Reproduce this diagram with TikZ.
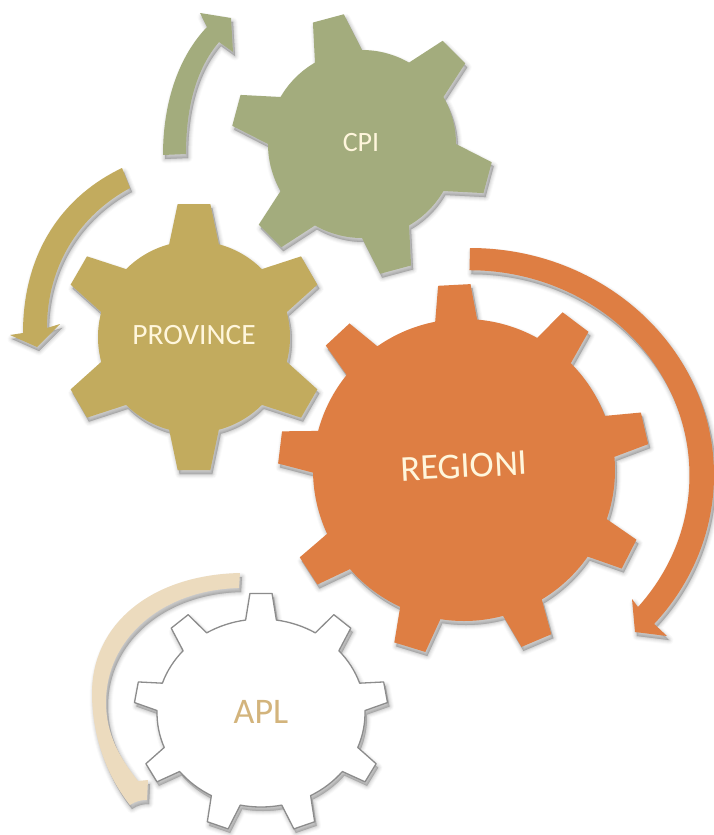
\documentclass[tikz,border=0pt]{standalone}
\usepackage{fontspec}
\setmainfont{Carlito}
\definecolor{cpicol}{HTML}{A3AC7D}
\definecolor{procol}{HTML}{C2AB5E}
\definecolor{regcol}{HTML}{DE7E43}
\definecolor{aplarrow}{HTML}{ECDBBE}
\definecolor{apltext}{HTML}{D3B47C}
\definecolor{labelcol}{HTML}{FFF6DC}
\tikzset{
  softshadow/.style={
    preaction={draw=black,fill=black,line width=9,line join=round,opacity=.02,transform canvas={shift={(2,-4)}}},
    preaction={draw=black,fill=black,line width=7,line join=round,opacity=.03,transform canvas={shift={(2,-4)}}},
    preaction={draw=black,fill=black,line width=5,line join=round,opacity=.04,transform canvas={shift={(2,-4)}}},
    preaction={draw=black,fill=black,line width=3,line join=round,opacity=.05,transform canvas={shift={(2,-4)}}},
    preaction={draw=black,fill=black,line width=1,line join=round,opacity=.07,transform canvas={shift={(2,-4)}}}
  },
  cpigear/.style={softshadow,fill=cpicol},
  progear/.style={softshadow,fill=procol},
  reggear/.style={softshadow,fill=regcol},
  aplgear/.style={softshadow,fill=white,draw=black!45,line width=1.3,line join=round},
  lab/.style={text=labelcol,inner sep=0pt,font=\fontsize{#1}{#1}\selectfont},
}
\newcommand{\gearsize}[6]{\def\gcx{#1}\def\gcy{#2}\def\grx{#3}\def\gry{#4}\def\gtx{#5}\def\gty{#6}}
\newcommand{\geardraw}[5]{%
  \pgfmathsetmacro\gstep{360/#2}
  \path[#1] ({\gcx+\grx*cos(#3+#5)},{-\gcy+\gry*sin(#3+#5)})
    \foreach \i [evaluate=\i as \a using {#3-(\i-1)*\gstep}] in {1,...,#2}{
      -- ({\gcx+\gtx*cos(\a+#4)},{-\gcy+\gty*sin(\a+#4)})
      -- ({\gcx+\gtx*cos(\a-#4)},{-\gcy+\gty*sin(\a-#4)})
      -- ({\gcx+\grx*cos(\a-#5)},{-\gcy+\gry*sin(\a-#5)})
      arc[start angle=\a-#5,end angle=\a-\gstep+#5,x radius=\grx,y radius=\gry]
    } -- cycle;
}
\begin{document}
\begin{tikzpicture}[x=1pt,y=1pt]
\useasboundingbox (0,0) rectangle (714,-835);
% gears
\gearsize{362}{144}{94}{94}{131}{131}
\geardraw{cpigear}{6}{105}{7}{15}
\gearsize{194}{337}{96}{96}{134}{134}
\geardraw{progear}{6}{90}{7}{15}
\gearsize{464}{470}{151}{151}{186}{186}
\geardraw{reggear}{9}{93}{5}{8}
\gearsize{261}{713}{104}{94}{127}{120}
\geardraw{aplgear}{9}{90}{5}{8.5}
% arrows
\fill[softshadow,fill=cpicol] (163,-155) .. controls (163,-100) and (180,-55) .. (207,-27)
  -- (200,-13) -- (231,-18) -- (233,-52) -- (219,-42)
  .. controls (197,-68) and (186,-105) .. (186,-154) -- cycle;
\fill[softshadow,fill=procol] (122,-168) .. controls (65,-195) and (23,-250) .. (23,-333)
  -- (10,-335) -- (37,-347) -- (60,-324) -- (47,-328)
  .. controls (47,-265) and (80,-215) .. (130,-188) -- cycle;
\fill[softshadow,fill=regcol] (470,-248) arc[start angle=90,end angle=-41,x radius=244,y radius=227]
  -- (667,-636) -- (635,-632) -- (632,-599) -- (638,-607)
  arc[start angle=-40,end angle=90,x radius=220,y radius=205] -- cycle;
\fill[softshadow,fill=aplarrow] (240,-573) .. controls (150,-575) and (92,-625) .. (92,-693)
  .. controls (92,-735) and (106,-775) .. (130,-805)
  .. controls (136,-801) and (141,-800) .. (147,-800) -- (148,-780) -- (138,-781)
  .. controls (120,-758) and (106,-735) .. (106,-702)
  .. controls (106,-640) and (160,-590) .. (239,-588) -- cycle;
% labels
\node[lab=28] (cpi) at (361,-143) {CPI};
\node[lab=29.5] (province) at (194,-335) {PROVINCE};
\node[lab=36.5,rotate=3] (regioni) at (464,-466) {REGIONI};
\node[lab=36,text=apltext] (apl) at (261,-712) {APL};
\end{tikzpicture}
\end{document}
